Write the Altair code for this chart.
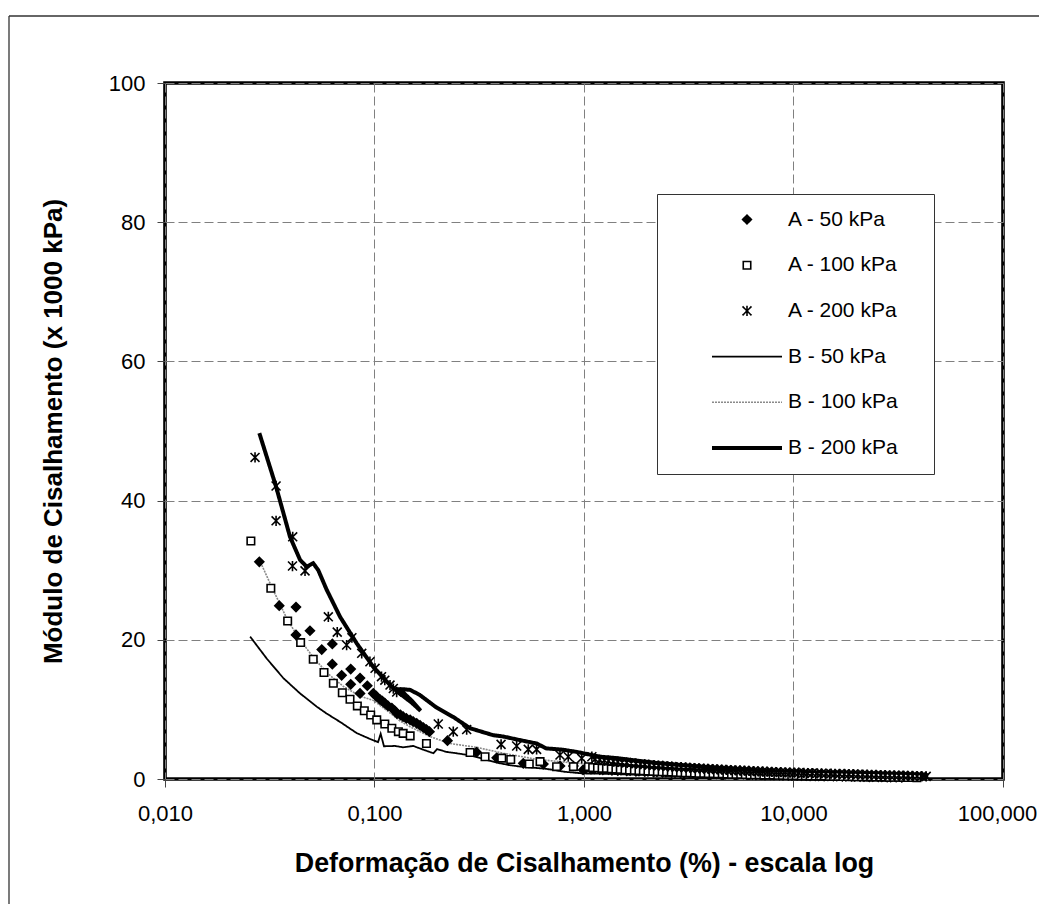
import altair as alt
import pandas as pd

SERIES = ["A - 50 kPa", "A - 100 kPa", "A - 200 kPa", "B - 50 kPa", "B - 100 kPa", "B - 200 kPa"]

# ---- A series (markers) ----
a50_x = [0.0282, 0.0351, 0.0422, 0.0422, 0.0492, 0.0560, 0.0629, 0.0629, 0.0697, 0.0770,
         0.0770, 0.0853, 0.0853, 0.0924, 0.0987, 0.1020, 0.1060, 0.1090, 0.1120, 0.1160,
         0.1210, 0.1250, 0.1280, 0.1330, 0.1370, 0.1420, 0.1480, 0.1530, 0.1590, 0.1650,
         0.1710, 0.1770, 0.1830, 0.223, 0.307, 0.383, 0.513, 0.640, 0.768, 0.890, 0.990,
         1.02, 1.08, 1.12, 1.19, 1.23, 1.31, 1.36, 1.45, 1.50, 1.60,
         1.66, 1.77, 1.83, 1.95, 2.02, 2.15, 2.23, 2.37, 2.46, 2.62,
         2.72, 2.89, 3.00, 3.19, 3.31, 3.52, 3.66, 3.89, 4.04, 4.29,
         4.46, 4.74, 4.92, 5.23, 5.43, 5.77, 6.00, 6.37, 6.62, 7.03,
         7.31, 7.76, 8.07, 8.57, 8.91, 9.46, 9.83, 10.4, 10.9, 11.5,
         12.0, 12.7, 13.2, 14.0, 14.6, 15.5, 16.1, 17.1, 17.8, 18.9,
         19.6, 20.8, 21.7, 23.0, 23.9, 25.4, 26.4, 28.0, 29.1, 30.9, 32.9]
a50_y = [31.2, 24.9, 24.7, 20.7, 21.3, 18.6, 19.4, 16.5, 14.9, 15.8,
         13.6, 14.5, 12.3, 13.4, 12.3, 11.9, 11.45, 11.2, 10.9, 10.5,
         10.2, 9.8, 9.4, 9.2, 8.95, 8.7, 8.5, 8.25, 8.0, 7.7,
         7.4, 7.1, 6.8, 5.5, 3.85, 3.05, 2.25, 2.15, 1.87, 1.87, 1.3,
         1.50, 1.40, 1.45, 1.35, 1.30, 1.35, 1.25, 1.20, 1.28, 1.15,
         1.20, 1.10, 1.12, 1.05, 1.08, 1.00, 1.02, 0.95, 0.98, 0.90,
         0.93, 0.88, 0.85, 0.88, 0.82, 0.80, 0.83, 0.76, 0.78, 0.73,
         0.75, 0.70, 0.72, 0.68, 0.66, 0.68, 0.62, 0.64, 0.60, 0.61,
         0.57, 0.58, 0.55, 0.56, 0.52, 0.53, 0.50, 0.50, 0.48, 0.47,
         0.46, 0.45, 0.44, 0.42, 0.43, 0.40, 0.41, 0.38, 0.39, 0.36,
         0.37, 0.34, 0.35, 0.32, 0.33, 0.30, 0.30, 0.27, 0.28, 0.25, 0.22]

a100_x = [0.0257, 0.0320, 0.0385, 0.0444, 0.0510, 0.0574, 0.0636, 0.0702, 0.0764, 0.0828,
          0.0894, 0.0959, 0.1025, 0.112, 0.121, 0.130, 0.137, 0.148, 0.177, 0.286, 0.337,
          0.405, 0.447, 0.548, 0.617, 0.740, 0.890, 1.05,
          1.10, 1.16, 1.22, 1.28, 1.35, 1.42, 1.49, 1.57, 1.65, 1.74,
          1.83, 1.92, 2.02, 2.13, 2.24, 2.36, 2.48, 2.61, 2.75, 2.89,
          3.04, 3.20, 3.37, 3.54, 3.73, 3.92, 4.13, 4.34, 4.57, 4.81,
          5.06, 5.32, 5.60, 5.89, 6.20, 6.52, 6.86, 7.22, 7.60, 8.00,
          8.42, 8.86, 9.32, 9.81, 10.3, 10.9, 11.4, 12.0, 12.7, 13.3,
          14.0, 14.8, 15.5, 16.3, 17.2, 18.1, 19.0, 20.0, 21.1, 22.2,
          23.3, 24.5, 25.8, 27.2, 28.6, 30.1, 31.7, 33.3, 35.1, 36.9, 38.8]
a100_y = [34.2, 27.4, 22.7, 19.6, 17.2, 15.3, 13.75, 12.4, 11.45, 10.5,
          9.8, 9.2, 8.5, 7.9, 7.3, 6.8, 6.55, 6.2, 5.1, 3.8, 3.2,
          3.0, 2.8, 2.15, 2.5, 1.77, 1.77, 1.77,
          1.65, 1.60, 1.55, 1.52, 1.45, 1.42, 1.38, 1.33, 1.30, 1.25,
          1.22, 1.18, 1.15, 1.10, 1.08, 1.04, 1.02, 0.98, 0.96, 0.93,
          0.90, 0.88, 0.86, 0.83, 0.81, 0.79, 0.77, 0.75, 0.73, 0.71,
          0.69, 0.67, 0.66, 0.64, 0.62, 0.61, 0.59, 0.58, 0.56, 0.55,
          0.53, 0.52, 0.51, 0.49, 0.48, 0.47, 0.45, 0.44, 0.43, 0.42,
          0.41, 0.40, 0.38, 0.37, 0.36, 0.35, 0.34, 0.33, 0.32, 0.31,
          0.30, 0.29, 0.28, 0.27, 0.26, 0.25, 0.24, 0.23, 0.22, 0.21, 0.20]

a200_x = [0.0269, 0.0339, 0.0339, 0.0407, 0.0406, 0.0466, 0.0602, 0.0664, 0.0736, 0.0780,
          0.0869, 0.0951, 0.1006, 0.108, 0.112, 0.1186, 0.123, 0.1276, 0.2016, 0.2377, 0.2754,
          0.402, 0.477, 0.542, 0.594, 0.768, 0.841, 0.975, 1.09,
          1.13, 1.19, 1.25, 1.31, 1.38, 1.45, 1.52, 1.60, 1.68, 1.77,
          1.86, 1.95, 2.05, 2.16, 2.27, 2.38, 2.51, 2.63, 2.77, 2.91,
          3.06, 3.21, 3.38, 3.55, 3.73, 3.92, 4.12, 4.33, 4.55, 4.79,
          5.03, 5.29, 5.56, 5.84, 6.14, 6.45, 6.78, 7.13, 7.49, 7.88,
          8.28, 8.70, 9.15, 9.61, 10.1, 10.6, 11.2, 11.7, 12.3, 13.0,
          13.6, 14.3, 15.1, 15.8, 16.6, 17.5, 18.4, 19.3, 20.3, 21.4,
          22.5, 23.6, 24.8, 26.1, 27.4, 28.8, 30.3, 31.8, 33.5, 35.2,
          37.0, 38.9, 40.9, 43.0]
a200_y = [46.2, 42.1, 37.1, 34.8, 30.6, 29.9, 23.3, 21.1, 19.25, 20.3,
          18.06, 16.85, 15.9, 14.7, 14.2, 13.5, 13.0, 12.5, 7.9, 6.8, 7.1,
          4.98, 4.74, 4.26, 4.26, 3.45, 3.2, 2.97, 3.2,
          2.85, 2.75, 2.70, 2.60, 2.55, 2.45, 2.40, 2.35, 2.28, 2.20,
          2.15, 2.10, 2.02, 1.98, 1.92, 1.88, 1.82, 1.78, 1.72, 1.70,
          1.65, 1.60, 1.57, 1.52, 1.50, 1.45, 1.42, 1.38, 1.35, 1.32,
          1.28, 1.25, 1.22, 1.20, 1.16, 1.14, 1.10, 1.08, 1.05, 1.03,
          1.00, 0.98, 0.96, 0.93, 0.92, 0.90, 0.88, 0.85, 0.84, 0.82,
          0.80, 0.78, 0.76, 0.75, 0.73, 0.72, 0.70, 0.68, 0.66, 0.64,
          0.62, 0.60, 0.58, 0.56, 0.55, 0.53, 0.51, 0.50, 0.48, 0.46,
          0.44, 0.42, 0.40, 0.38]

# ---- B series (lines, in drawing order) ----
b50_x = [0.0255, 0.0306, 0.0367, 0.0441, 0.0530, 0.0591, 0.0685, 0.0822, 0.0952, 0.1040,
         0.1070, 0.1110, 0.1250, 0.1370, 0.1530, 0.1750, 0.1910, 0.1990, 0.2200, 0.2460,
         0.2860, 0.3300, 0.3830, 0.4400, 0.4920, 0.5600, 0.6400, 0.7200, 0.8000, 0.9900,
         1.30, 1.80, 2.50, 3.50, 5.00, 7.00, 10.0, 14.0, 20.0, 28.0, 40.0]
b50_y = [20.45, 17.3, 14.5, 12.3, 10.4, 9.4, 8.2, 6.6, 5.75, 5.3,
         6.5, 4.7, 4.75, 4.55, 4.75, 4.1, 3.7, 4.3, 3.9, 3.7,
         3.4, 2.9, 2.35, 2.0, 1.8, 1.65, 1.5, 1.3, 1.05, 0.8,
         0.75, 0.6, 0.5, 0.45, 0.4, 0.35, 0.3, 0.3, 0.25, 0.2, 0.15]

b100_x = [0.0282, 0.0323, 0.0385, 0.0441, 0.0510, 0.0591, 0.0710, 0.0853, 0.0987, 0.1140,
          0.1330, 0.1480, 0.1840, 0.2290, 0.3070, 0.4120, 0.5940, 0.8570, 1.19,
          1.60, 2.20, 3.00, 4.20, 6.00, 8.50, 12.0, 17.0, 24.0, 34.0, 42.0]
b100_y = [31.5, 27.6, 22.8, 20.0, 17.5, 15.3, 13.3, 11.9, 11.3, 9.9,
          8.3, 7.5, 6.1, 5.1, 4.55, 3.7, 2.83, 2.35, 2.0,
          1.7, 1.4, 1.15, 1.0, 0.85, 0.7, 0.6, 0.5, 0.4, 0.3, 0.25]

b200_x = [0.0282, 0.0339, 0.0395, 0.0441, 0.0474, 0.0510, 0.0539, 0.0591, 0.0685, 0.0822,
          0.0987, 0.1186, 0.1280, 0.1500, 0.1660, 0.1500, 0.1320, 0.1370, 0.1480, 0.1640,
          0.1970, 0.2380, 0.2856, 0.3680, 0.4120, 0.4925, 0.5940, 0.6600, 0.7950, 0.9200,
          1.19, 1.43, 2.22, 4.29, 8.28, 16.0, 38.0, 44.0]
b200_y = [49.7, 42.0, 34.8, 31.5, 30.5, 31.0, 30.0, 27.2, 23.3, 19.5,
          16.1, 13.5, 12.6, 11.0, 9.8, 11.3, 12.9, 12.9, 12.8, 12.1,
          10.3, 8.9, 7.3, 6.3, 6.1, 5.6, 5.1, 4.4, 4.2, 3.9,
          3.2, 3.0, 2.3, 1.6, 1.1, 0.86, 0.62, 0.55]

for xs, ys in [(a50_x, a50_y), (a100_x, a100_y), (a200_x, a200_y),
               (b50_x, b50_y), (b100_x, b100_y), (b200_x, b200_y)]:
    assert len(xs) == len(ys), (len(xs), len(ys))

pts_rows = []
for name, xs, ys in [(SERIES[0], a50_x, a50_y), (SERIES[1], a100_x, a100_y), (SERIES[2], a200_x, a200_y)]:
    for xv, yv in zip(xs, ys):
        pts_rows.append({"series": name, "x": xv, "y": yv})
pts = pd.DataFrame(pts_rows)

line_rows = []
for name, xs, ys in [(SERIES[3], b50_x, b50_y), (SERIES[4], b100_x, b100_y), (SERIES[5], b200_x, b200_y)]:
    for i, (xv, yv) in enumerate(zip(xs, ys)):
        line_rows.append({"series": name, "x": xv, "y": yv, "idx": i})
lines = pd.DataFrame(line_rows)

STAR = "M-1,-1L1,1M-1,1L1,-1M0,-1.15L0,1.15"

shape_scale = alt.Scale(domain=SERIES, range=["diamond", "square", STAR, "stroke", "stroke", "stroke"])
size_scale = alt.Scale(type="ordinal", domain=SERIES, range=[80, 56, 80, 4900, 4900, 4900])
fill_scale = alt.Scale(domain=SERIES, range=["#000000", "#ffffff", "transparent", "transparent", "transparent", "transparent"])
stroke_scale = alt.Scale(domain=SERIES, range=["#000000", "#000000", "#000000", "#000000", "#8a8a8a", "#000000"])
sw_scale = alt.Scale(type="ordinal", domain=SERIES, range=[1.5, 1.6, 1.6, 1.8, 1.6, 4])
dash_scale = alt.Scale(domain=SERIES, range=[[1, 0], [1, 0], [1, 0], [1, 0], [2, 1], [1, 0]])

FONT = "Liberation Sans"

x_enc = alt.X("x:Q", scale=alt.Scale(type="log", domain=[0.01, 100], nice=False),
              axis=alt.Axis(values=[0.01, 0.1, 1, 10, 100], labelFlush=False,
                            labelExpr="replace(format(datum.value, '.3f'), '.', ',')",
                            labelOffset={"condition": {"test": "datum.value >= 100", "value": -6}, "value": 0},
                            title="Deformação de Cisalhamento (%) - escala log", titleFontSize=26.8,
                            titleX=419, titleY=84, titleBaseline="middle", titleAlign="center"))
y_enc = alt.Y("y:Q", scale=alt.Scale(domain=[0, 100], nice=False),
              axis=alt.Axis(values=[0, 20, 40, 60, 80, 100], labelFlush=False,
                            title="Módulo de Cisalhamento (x 1000 kPa)",
                            titleX=-112, titleY=348, titleAngle=-90, titleBaseline="middle", titleAlign="center"))

legend = alt.Legend(title="mm", titleOrient="right", titleOpacity=0, titleFontSize=9,
                    titlePadding=4, orient="none", legendX=492, legendY=111)

line_layer = alt.Chart(lines).mark_line(interpolate="linear").encode(
    x=x_enc, y=y_enc,
    stroke=alt.Stroke("series:N", scale=stroke_scale, legend=legend),
    strokeWidth=alt.StrokeWidth("series:N", scale=sw_scale, legend=legend),
    strokeDash=alt.StrokeDash("series:N", scale=dash_scale, legend=legend),
    detail="series:N",
    order=alt.Order("idx:Q"),
)

point_layer = alt.Chart(pts).mark_point(opacity=1, strokeWidth=1.6).encode(
    x=x_enc, y=y_enc,
    shape=alt.Shape("series:N", scale=shape_scale, legend=legend),
    size=alt.Size("series:N", scale=size_scale, legend=legend),
    fill=alt.Fill("series:N", scale=fill_scale, legend=legend),
    stroke=alt.Stroke("series:N", scale=stroke_scale, legend=legend),
)

one = pd.DataFrame({"k": [0]})
frame_top = alt.Chart(one).mark_rule(stroke="#333333", strokeWidth=1.3, clip=False).encode(
    x=alt.value(-156), x2=alt.value(880), y=alt.value(-67))
frame_left = alt.Chart(one).mark_rule(stroke="#333333", strokeWidth=1.3, clip=False).encode(
    x=alt.value(-156), y=alt.value(-67), y2=alt.value(830))

chart = alt.layer(frame_top, frame_left, line_layer, point_layer).properties(
    width=838, height=696,
    autosize=alt.AutoSizeParams(type="none"),
    padding={"left": 157, "top": 75, "right": 36, "bottom": 125},
).configure_view(
    stroke="#000000", strokeWidth=3.6
).configure_axis(
    labelFont=FONT, labelFontSize=22, labelColor="#000000",
    titleFont=FONT, titleFontSize=26, titleFontWeight="bold", titleColor="#000000",
    tickSize=8, tickColor="#444444", tickWidth=1,
    domain=False,
    grid=True, gridColor="#808080", gridDash=[9, 4], gridWidth=1,
).configure_axisX(
    labelPadding=16, labelBaseline="top"
).configure_axisY(
    labelPadding=12
).configure_legend(
    labelFont=FONT, labelFontSize=21, labelColor="#000000",
    clipHeight=21, rowPadding=23.7, padding=15,
    symbolOffset=38, labelOffset=4,
    fillColor="#ffffff", strokeColor="#333333",
)

chart.save("out.html", embed_options={"renderer": "svg", "actions": False})
